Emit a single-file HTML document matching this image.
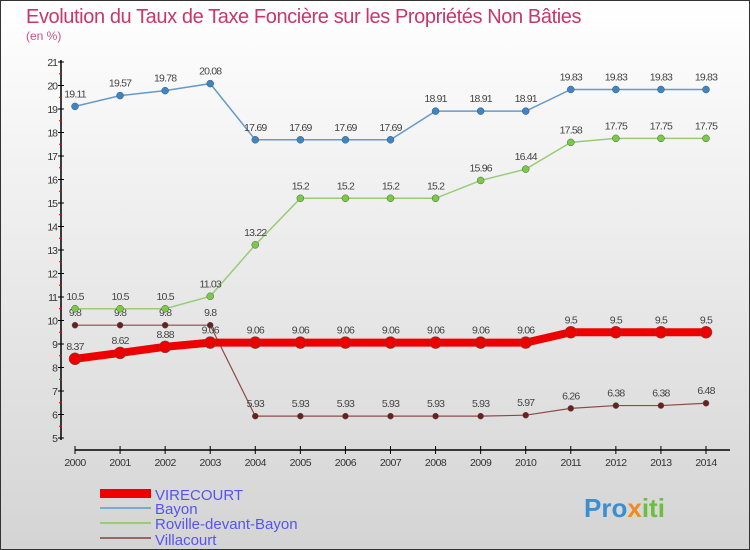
<!DOCTYPE html>
<html><head><meta charset="utf-8"><style>
body{margin:0;padding:0}
#wrap{width:750px;height:550px;position:relative;overflow:hidden;font-family:"Liberation Sans",sans-serif}
svg text{font-family:"Liberation Sans",sans-serif}
</style></head><body>
<div id="wrap">
<svg id="chart" width="750" height="550">
<defs><linearGradient id="bg" x1="0" y1="0" x2="0" y2="1"><stop offset="0" stop-color="#ffffff"/><stop offset="1" stop-color="#d4d4d4"/></linearGradient></defs>
<rect x="0.5" y="0.5" width="749" height="549" fill="url(#bg)" stroke="#333"/>
<text x="26" y="23" font-size="20" letter-spacing="-0.4" fill="#c8366a">Evolution du Taux de Taxe Foncière sur les Propriétés Non Bâties</text>
<text x="26" y="40" font-size="12" fill="#c8508a">(en %)</text>
<g id="axes"></g><g id="series"></g>
<g>
<rect x="100" y="489" width="51" height="9" fill="#e00"/>
<text x="155" y="500" font-size="15" fill="#5555ee">VIRECOURT</text>
<rect x="100" y="507" width="51" height="2" fill="#7aaacc"/>
<text x="155" y="514" font-size="15" fill="#5555ee">Bayon</text>
<rect x="100" y="522" width="51" height="2" fill="#99cc77"/>
<text x="155" y="529" font-size="15" fill="#5555ee">Roville-devant-Bayon</text>
<rect x="100" y="537" width="51" height="2" fill="#996666"/>
<text x="155" y="545" font-size="15" fill="#5555ee">Villacourt</text>
</g>
<text x="584" y="517" font-size="26" font-weight="bold" fill="#3a8fd0">Pro<tspan fill="#f08a20">x</tspan><tspan fill="#6abf40">iti</tspan></text>
</svg>
</div>
<script>
const years=[2000,2001,2002,2003,2004,2005,2006,2007,2008,2009,2010,2011,2012,2013,2014];
const yTicks=[5,6,7,8,9,10,11,12,13,14,15,16,17,18,19,20,21];
const virecourt=[8.37,8.62,8.88,9.06,9.06,9.06,9.06,9.06,9.06,9.06,9.06,9.5,9.5,9.5,9.5];
const bayon=[19.11,19.57,19.78,20.08,17.69,17.69,17.69,17.69,18.91,18.91,18.91,19.83,19.83,19.83,19.83];
const roville=[10.5,10.5,10.5,11.03,13.22,15.2,15.2,15.2,15.2,15.96,16.44,17.58,17.75,17.75,17.75];
const villacourt=[9.8,9.8,9.8,9.8,5.93,5.93,5.93,5.93,5.93,5.93,5.97,6.26,6.38,6.38,6.48];
const NS="http://www.w3.org/2000/svg";
const x=i=>75+i*(706-75)/(years.length-1);
const y=v=>438-(v-5)*(438-62)/16;
function mk(tag,attrs,parent,txt){const e=document.createElementNS(NS,tag);for(const k in attrs)e.setAttribute(k,attrs[k]);if(txt!==undefined)e.textContent=txt;parent.appendChild(e);return e;}
const ax=document.getElementById('axes');
let l=mk('line',{x1:61,y1:y(21)-2,x2:61,y2:y(5)+2,stroke:'#000','stroke-width':1.5},ax);


l=mk('line',{x1:75,y1:450,x2:730,y2:450,stroke:'#000','stroke-width':1.5},ax);


yTicks.forEach(t=>{
 let tk=mk('line',{x1:58,y1:y(t),x2:64,y2:y(t),stroke:'#000'},ax);
 
 
 if(t<21){let m=mk('line',{x1:59,y1:y(t+0.5),x2:62,y2:y(t+0.5),stroke:'#e00'},ax);
 
 }
 let tx=mk('text',{x:57,y:y(t)+4,'font-size':10.5,fill:'#333','text-anchor':'end','letter-spacing':'-1'},ax,String(t));
 
 
});
years.forEach((yr,i)=>{
 let tk=mk('line',{x1:x(i),y1:446,x2:x(i),y2:454,stroke:'#000'},ax);
 
 
 let tx=mk('text',{x:x(i),y:466,'font-size':10.5,fill:'#333','text-anchor':'middle','letter-spacing':'-0.5'},ax,String(yr));
 
 
});
const sg=document.getElementById('series');
function series(name,data,color,dot,w,r){
 const g=mk('g',{},sg);
 
 
 const p=mk('polyline',{points:data.map((v,i)=>x(i)+','+y(v)).join(' '),fill:'none',stroke:color,'stroke-width':w},g);
 
 
 data.forEach((v,i)=>{
  const c=mk('circle',{cx:x(i),cy:y(v),r:r,fill:dot,stroke:'#555','stroke-width':0.5},g);
  
  
  const t=mk('text',{x:x(i),y:y(v)-9,'font-size':10.5,fill:'#444','text-anchor':'middle','letter-spacing':'-0.8'},g,String(v));
  
  
 });
}
series('villacourt',villacourt,'#8b4a4a','#6b2020',1.2,3);
series('roville',roville,'#99cc77','#77cc44',1.5,3.5);
series('bayon',bayon,'#6699cc','#3a86c8',1.5,3.5);
series('virecourt',virecourt,'#ee0000','#ee0000',8,6);
</script>
</body></html>
